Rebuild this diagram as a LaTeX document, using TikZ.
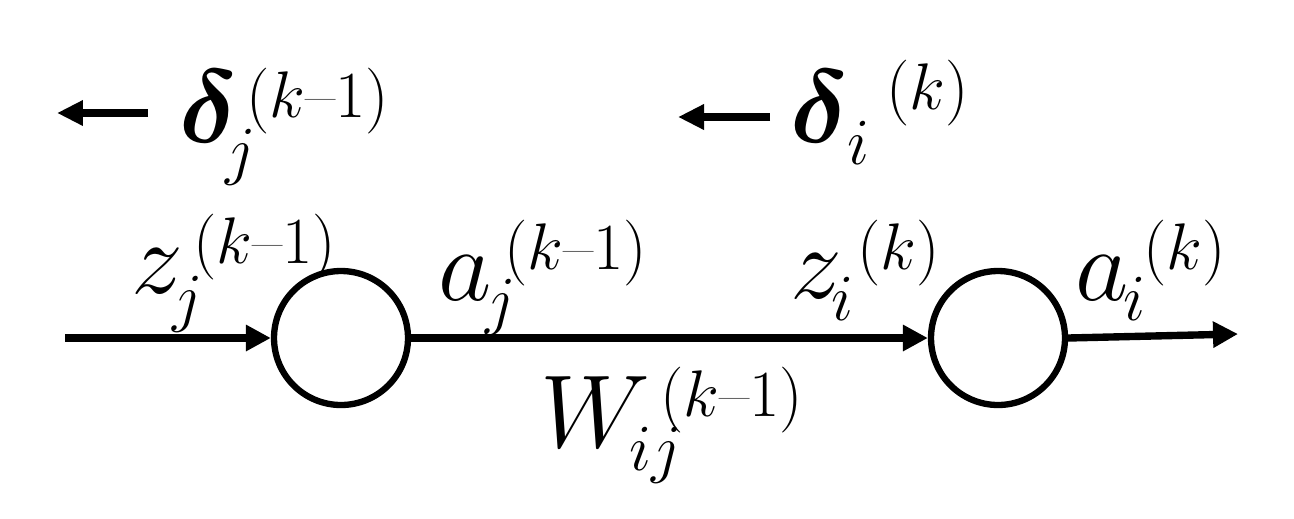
\RequirePackage{fix-cm}
\documentclass[tikz,border=0pt]{standalone}
\usepackage{amsmath,bm}
\usetikzlibrary{arrows.meta}
\newdimen\PX \PX=0.5692pt
\newcommand{\sfs}{\fontsize{37.5}{40}\selectfont}
\newcommand{\kmo}{k\text{\color{black!60}--}1}
% base, sub, sup, sub dx, sub dy, sup dx, sup dy (in px)
\newcommand{\lab}[7]{\rlap{$#1$}\rlap{\hspace*{#4\PX}\raisebox{#5\PX}{\sfs$#2$}}\hspace*{#6\PX}\raisebox{#7\PX}{\sfs$#3$}}
\begin{document}
\begin{tikzpicture}[x=0.02cm,y=-0.02cm,
  neuron/.style={circle,draw,line width=3.6pt,minimum size=2.68cm,inner sep=0pt},
  conn/.style={line width=4.2pt,-{Triangle[length=0.5cm,width=0.5cm]}},
  back/.style={line width=4.5pt,-{Triangle[length=0.52cm,width=0.48cm]}},
  lbl/.style={inner sep=0pt,anchor=base west,font=\fontsize{59}{70}\selectfont}]
\useasboundingbox (0,0) rectangle (1294,518);
\node[neuron] (n1) at (341,338) {};
\node[neuron] (n2) at (998,338) {};
\coordinate (in) at (65,338);
\coordinate (out) at (1238,334);
\draw[conn] (in) -- (n1.west);
\draw[conn] (n1.east) -- (n2.west);
\draw[conn] (n2.east) -- (out);
% backward deltas
\coordinate (d1s) at (148,113);
\coordinate (d1e) at (57,113);
\coordinate (d2s) at (770,117);
\coordinate (d2e) at (678,117);
\draw[back] (d1s) -- (d1e);
\draw[back] (d2s) -- (d2e);
\node[lbl] (dj) at (179,142) {\lab{\bm{\delta}}{j}{(\kmo)}{46}{-30}{67}{25}};
\node[lbl] (di) at (790,142) {\lab{\bm{\delta}}{i}{(k)}{57}{-22}{96}{33}};
% labels
\node[lbl] (zj) at (131,293) {\lab{z}{j}{(\kmo)}{41}{-26}{62}{30}};
\node[lbl] (aj) at (438,300) {\lab{a}{j}{(\kmo)}{47}{-22}{66}{31}};
\node[lbl] (zi) at (790,298) {\lab{z}{i}{(k)}{41}{-22}{67}{29}};
\node[lbl] (ai) at (1075,300) {\lab{a}{i}{(k)}{48}{-20}{68}{31}};
\node[lbl] (wij) at (540,447) {\lab{W}{ij}{(\kmo)}{89}{-23}{120}{31}};
\end{tikzpicture}
\end{document}
